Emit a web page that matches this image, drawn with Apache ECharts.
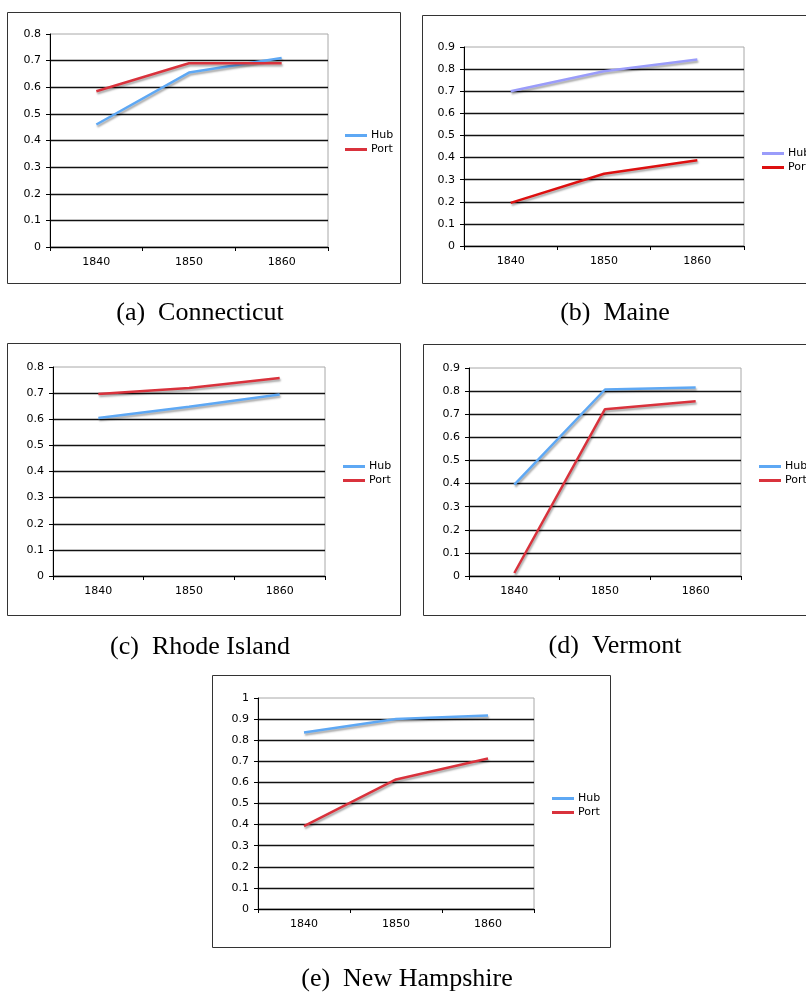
<!DOCTYPE html>
<html>
<head>
<meta charset="utf-8">
<script src="https://cdn.jsdelivr.net/npm/echarts@6/dist/echarts.min.js"></script>
<style>
html,body{margin:0;padding:0;background:#fff;}
#c{width:806px;height:992px;}
</style>
</head>
<body>
<div id="c"></div>
<script>
const years = ['1840', '1850', '1860'];
const seriesNames = ['Hub', 'Port'];

const ctHub = [0.46, 0.655, 0.71];
const ctPort = [0.585, 0.69, 0.69];
const meHub = [0.70, 0.79, 0.843];
const mePort = [0.195, 0.327, 0.388];
const riHub = [0.605, 0.648, 0.695];
const riPort = [0.697, 0.72, 0.758];
const vtHub = [0.395, 0.807, 0.816];
const vtPort = [0.013, 0.722, 0.756];
const nhHub = [0.836, 0.901, 0.917];
const nhPort = [0.393, 0.614, 0.713];

const yMax = [0.8, 0.9, 0.8, 0.9, 1.0];
const captions = ['(a)  Connecticut', '(b)  Maine', '(c)  Rhode Island', '(d)  Vermont', '(e)  New Hampshire'];

const panels = [
  {hub: ctHub, port: ctPort, hubColor: '#5ea8f4', portColor: '#d9323c',
   grid: {left: 50, top: 34, width: 278, height: 213}, frame: [7, 12, 393, 271],
   legend: [340, 125], cap: [200, 313]},
  {hub: meHub, port: mePort, hubColor: '#9a9cfa', portColor: '#dd1010',
   grid: {left: 464, top: 47, width: 280, height: 199}, frame: [422, 15, 420, 268],
   legend: [757, 143], cap: [615, 313]},
  {hub: riHub, port: riPort, hubColor: '#5ea8f4', portColor: '#d9323c',
   grid: {left: 53, top: 367, width: 272, height: 209}, frame: [7, 343, 393, 272],
   legend: [338, 456], cap: [200, 647]},
  {hub: vtHub, port: vtPort, hubColor: '#5ea8f4', portColor: '#d9323c',
   grid: {left: 469, top: 368, width: 272, height: 208}, frame: [423, 344, 420, 271],
   legend: [754, 456], cap: [615, 646]},
  {hub: nhHub, port: nhPort, hubColor: '#5ea8f4', portColor: '#d9323c',
   grid: {left: 258, top: 698, width: 276, height: 211}, frame: [212, 675, 398, 272],
   legend: [547, 788], cap: [407, 979]}
];

const axisFont = 'DejaVu Sans';
const grids = [], xAxes = [], yAxes = [], series = [], legends = [], graphics = [];

panels.forEach((p, i) => {
  grids.push(Object.assign({show: true, borderColor: '#a8a8a8', borderWidth: 1, backgroundColor: '#fff'}, p.grid));
  xAxes.push({
    type: 'category', gridIndex: i, data: years, boundaryGap: true,
    axisLine: {show: true, onZero: false, lineStyle: {color: '#000', width: 1}},
    axisTick: {show: true, length: 4, lineStyle: {color: '#000'}},
    axisLabel: {margin: 10, color: '#000', fontFamily: axisFont, fontSize: 11},
    splitLine: {show: false}
  });
  yAxes.push({
    type: 'value', gridIndex: i, min: 0, max: yMax[i], interval: 0.1,
    axisLine: {show: true, lineStyle: {color: '#000', width: 1}},
    axisTick: {show: true, length: 4, lineStyle: {color: '#000'}},
    axisLabel: {margin: 9, color: '#000', fontFamily: axisFont, fontSize: 11,
      formatter: v => String(Math.round(v * 10) / 10)},
    splitLine: {show: true, showMaxLine: false, lineStyle: {color: '#111', width: 1.3}}
  });
  const tag = ' ' + i;
  [[seriesNames[0], p.hub, p.hubColor], [seriesNames[1], p.port, p.portColor]].forEach(([nm, data, col]) => {
    series.push({
      name: nm + tag, type: 'line', xAxisIndex: i, yAxisIndex: i, data: data,
      showSymbol: false, symbol: 'none', smooth: false, z: 5,
      color: col,
      lineStyle: {color: col, width: 2.5, shadowColor: 'rgba(0,0,0,0.35)', shadowBlur: 2, shadowOffsetX: 1, shadowOffsetY: 2},
      emphasis: {disabled: true}, animation: false
    });
  });
  legends.push({
    show: true, orient: 'vertical', left: p.legend[0], top: p.legend[1],
    data: seriesNames.map(n => n + tag), icon: 'rect', itemWidth: 22, itemHeight: 3, itemGap: 3,
    formatter: n => n.split(' ')[0], selectedMode: false,
    textStyle: {fontFamily: axisFont, fontSize: 11, color: '#000', padding: [0, 0, 0, -1]}
  });
  graphics.push({
    type: 'rect', shape: {x: p.frame[0] + 0.5, y: p.frame[1] + 0.5, width: p.frame[2], height: p.frame[3]},
    style: {fill: null, stroke: '#333', lineWidth: 1}, silent: true, z: 0
  });
  graphics.push({
    type: 'text', x: p.cap[0], y: p.cap[1],
    style: {text: captions[i], fontFamily: 'Liberation Serif', fontSize: 26, fill: '#000', align: 'center', verticalAlign: 'middle'},
    silent: true
  });
});

const chart = echarts.init(document.getElementById('c'), null, {renderer: 'canvas', width: 806, height: 992});
chart.setOption({
  animation: false,
  backgroundColor: '#fff',
  grid: grids, xAxis: xAxes, yAxis: yAxes, series: series, legend: legends,
  graphic: {elements: graphics}
});
</script>
</body>
</html>
